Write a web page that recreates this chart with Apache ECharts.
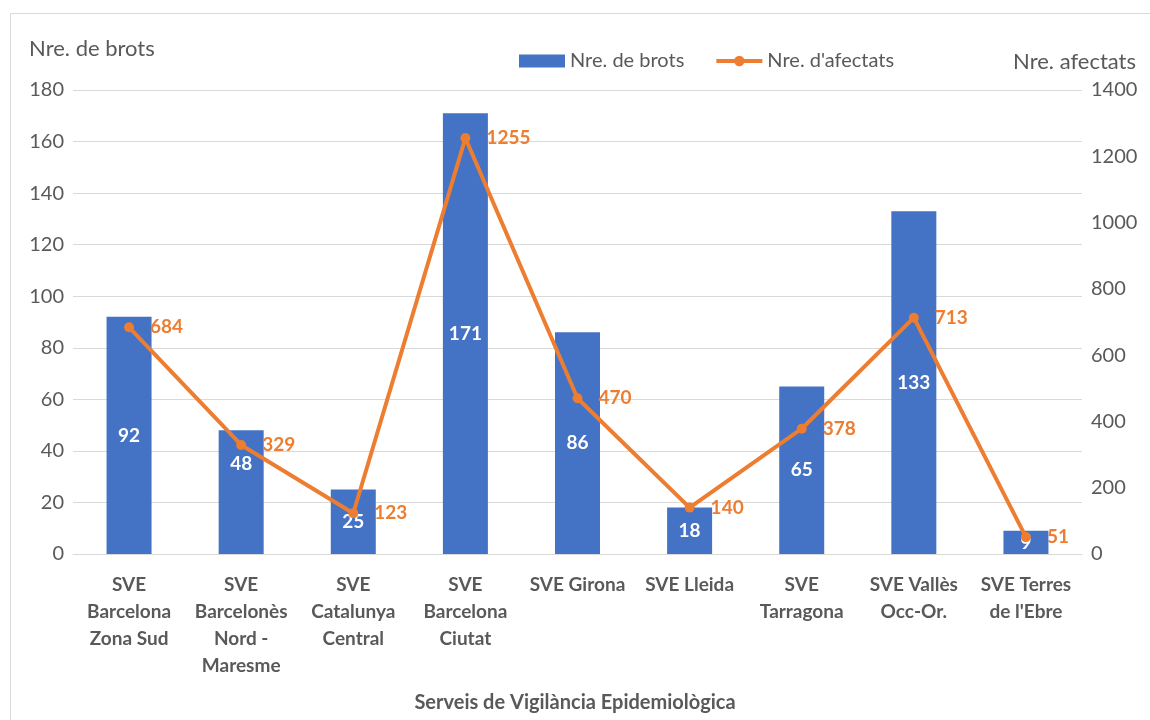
<!DOCTYPE html>
<html>
<head>
<meta charset="utf-8">
<script src="https://cdn.jsdelivr.net/npm/echarts@6/dist/echarts.min.js"></script>
<style>
  html, body { margin: 0; padding: 0; background: #fff; }
  #chart { width: 1150px; height: 720px; }
</style>
</head>
<body>
<div id="chart"></div>
<script>
// categories (line breaks as wrapped in the original)
const categories = [
  'SVE\nBarcelona\nZona Sud',
  'SVE\nBarcelonès\nNord -\nMaresme',
  'SVE\nCatalunya\nCentral',
  'SVE\nBarcelona\nCiutat',
  'SVE Girona',
  'SVE Lleida',
  'SVE\nTarragona',
  'SVE Vallès\nOcc-Or.',
  'SVE Terres\nde l\'Ebre'
];
const brots = [92, 48, 25, 171, 86, 18, 65, 133, 9];
const afectats = [684, 329, 123, 1255, 470, 140, 378, 713, 51];

const FONT = 'Lato';
const GREY = '#595959';

const chart = echarts.init(document.getElementById('chart'));

chart.setOption({
  animation: false,
  textStyle: { fontFamily: FONT },
  graphic: [{
    type: 'rect',
    left: 8, top: 11,
    shape: { width: 1160, height: 720 },
    style: { fill: 'none', stroke: '#d9d9d9', lineWidth: 1 }
  }],
  title: [
    { text: 'Nre. de brots', left: 24, top: 33,
      textStyle: { fontFamily: FONT, fontSize: 22, fontWeight: 'normal', color: GREY } },
    { text: 'Nre. afectats', right: 9, top: 46,
      textStyle: { fontFamily: FONT, fontSize: 22, fontWeight: 'normal', color: GREY } },
    { text: 'Serveis de Vigilància Epidemiològica', left: 'center', top: 688,
      textStyle: { fontFamily: FONT, fontSize: 20, fontWeight: 'bold', color: GREY } }
  ],
  legend: {
    left: 514, top: 46,
    itemWidth: 46, itemHeight: 13, itemGap: 30,
    textStyle: { fontFamily: FONT, fontSize: 20, color: GREY },
    data: [
      { name: 'Nre. de brots', icon: 'rect' },
      { name: "Nre. d'afectats", lineStyle: { width: 4 }, itemStyle: { borderWidth: 0 } }
    ]
  },
  grid: { left: 73, right: 68, top: 90, bottom: 166 },
  xAxis: {
    type: 'category',
    data: categories,
    axisTick: { show: false },
    axisLine: { lineStyle: { color: '#d9d9d9', width: 1 } },
    axisLabel: {
      color: GREY, fontFamily: FONT, fontSize: 19, fontWeight: 'bold',
      lineHeight: 27, margin: 17, interval: 0
    }
  },
  yAxis: [
    {
      type: 'value', min: 0, max: 180, interval: 20,
      axisLine: { show: false }, axisTick: { show: false },
      axisLabel: { color: GREY, fontFamily: FONT, fontSize: 20, margin: 9 },
      splitLine: { lineStyle: { color: '#d9d9d9' } }
    },
    {
      type: 'value', min: 0, max: 1400, interval: 200,
      axisLine: { show: false }, axisTick: { show: false },
      axisLabel: { color: GREY, fontFamily: FONT, fontSize: 20, margin: 9,
        formatter: v => String(v) },
      splitLine: { show: false }
    }
  ],
  series: [
    {
      name: 'Nre. de brots',
      type: 'bar',
      barWidth: 45,
      yAxisIndex: 0,
      itemStyle: { color: '#4472C4' },
      label: {
        show: true, position: 'inside', color: '#fff',
        fontFamily: FONT, fontSize: 19, fontWeight: 'bold'
      },
      data: brots.map((v, i) => i === 1 ? { value: v, label: { offset: [0, -28] } } : v)
    },
    {
      name: "Nre. d'afectats",
      type: 'line',
      yAxisIndex: 1,
      symbol: 'circle',
      symbolSize: 10,
      lineStyle: { color: '#ED7D31', width: 4 },
      itemStyle: { color: '#ED7D31' },
      label: {
        show: true, position: 'right', distance: 16, color: '#ED7D31',
        fontFamily: FONT, fontSize: 19, fontWeight: 'bold'
      },
      data: afectats
    }
  ]
});
</script>
</body>
</html>
